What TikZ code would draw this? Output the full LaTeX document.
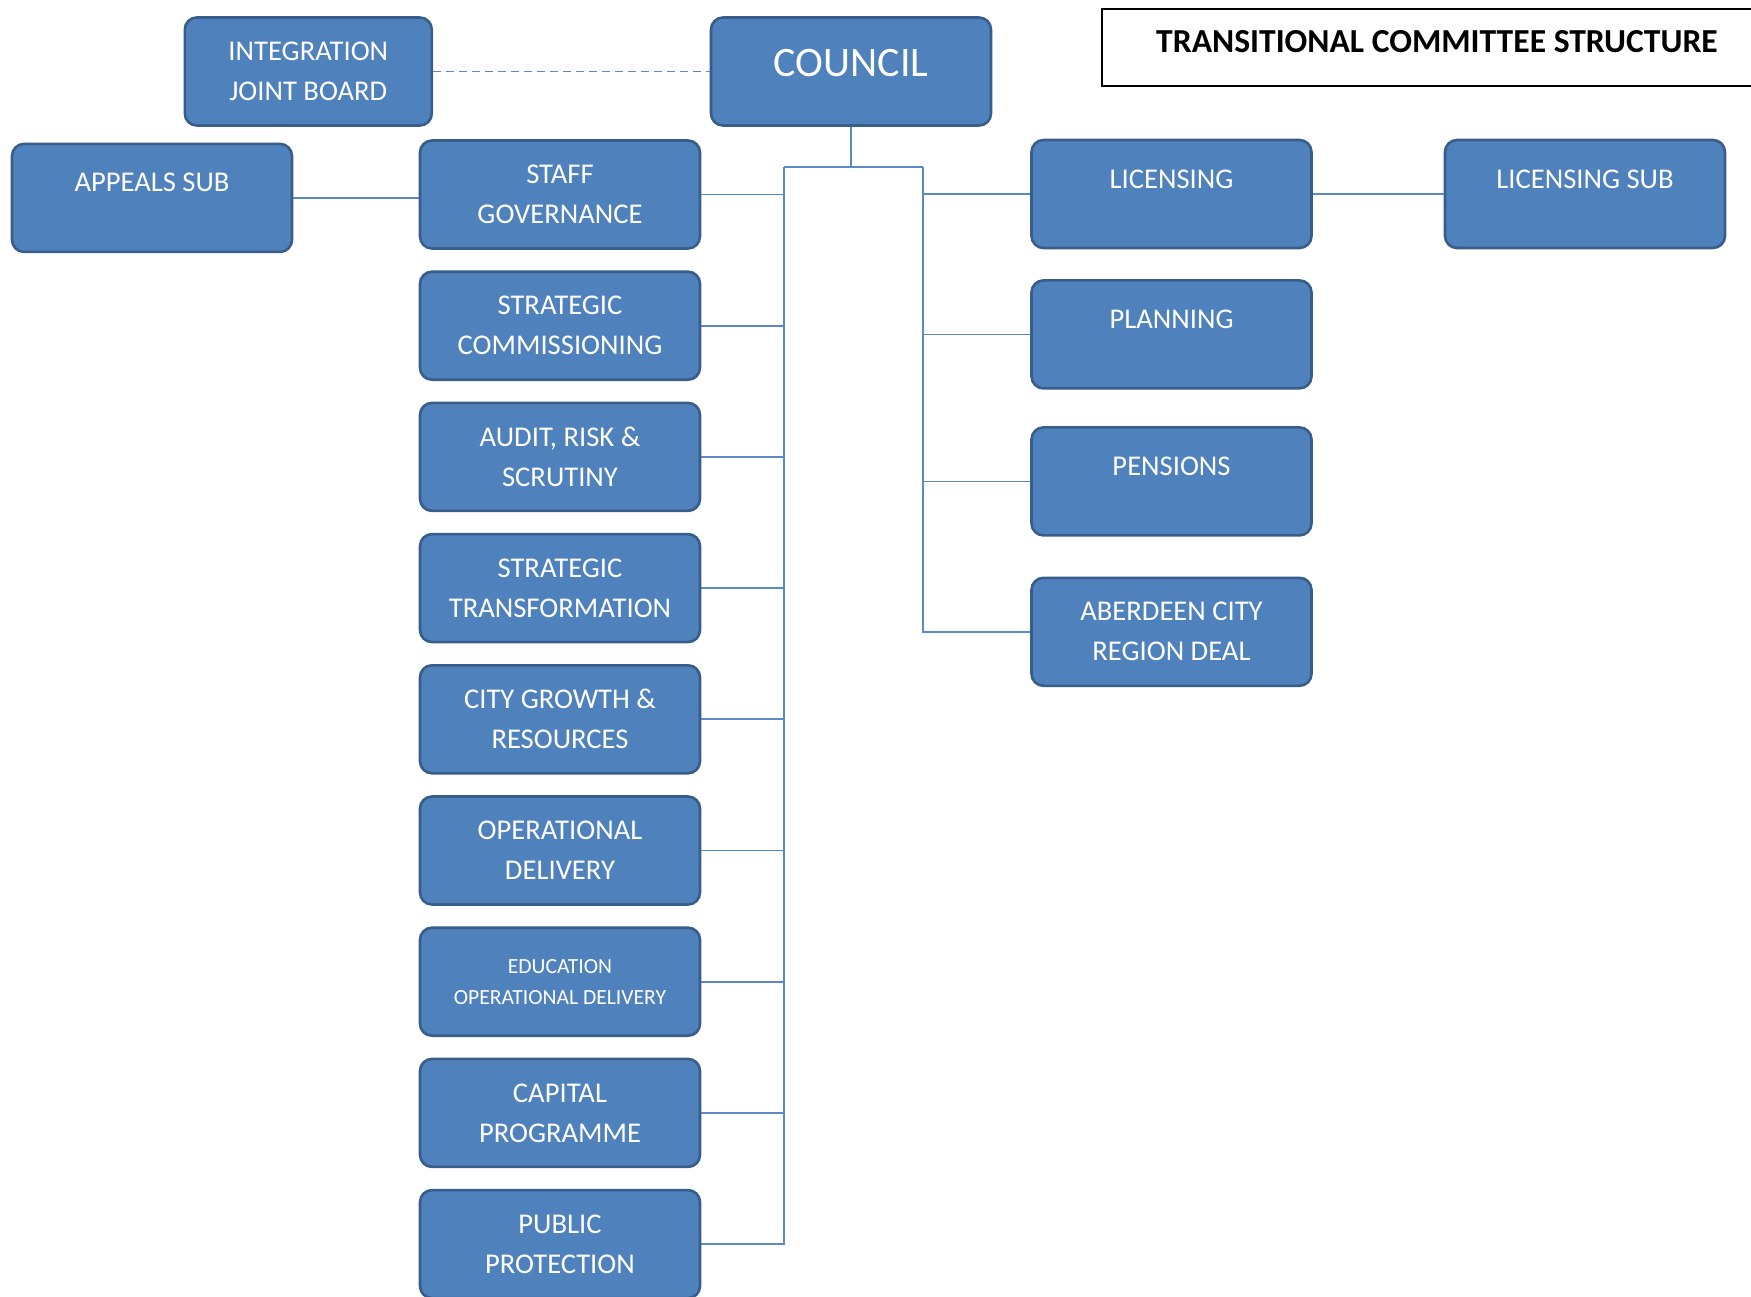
\documentclass[tikz,border=0pt]{standalone}
\usepackage{fontspec}
\setmainfont{Carlito}
\usetikzlibrary{calc,positioning}
\definecolor{boardBlue}{HTML}{4F81BD}
\definecolor{boardEdge}{HTML}{385D8A}
\definecolor{linkBlue}{HTML}{5A8AC6}
\tikzset{
  committee card/.style={
    draw=boardEdge,
    fill=boardBlue,
    rounded corners=6pt,
    line width=1.3pt,
    minimum width=140pt,
    minimum height=54pt,
    inner sep=0pt,
    font=\fontsize{14.3}{20}\selectfont,
    align=center,
    text=white
  },
  single line/.style={
    text height=9pt,
    text depth=15pt
  },
  council card/.style={
    committee card,
    font=\fontsize{21}{25}\selectfont,
    text height=13.5pt,
    text depth=9pt
  },
  small card/.style={
    committee card,
    font=\fontsize{10.8}{15.5}\selectfont
  },
  title card/.style={
    draw=black,
    line width=1pt,
    minimum width=335pt,
    minimum height=38.5pt,
    font=\bfseries\fontsize{16.8}{19}\selectfont,
    text height=10.8pt,
    text depth=5.6pt,
    text=black
  },
  bus edge/.style={
    draw=linkBlue,
    line width=0.9pt
  },
  liaison edge/.style={
    bus edge,
    dash pattern=on 4pt off 2.5pt
  }
}
\begin{document}
\begin{tikzpicture}
  \useasboundingbox (0,0) rectangle (875.5pt,-648pt);

  \node[title card] (title) at (718.5pt,-23.75pt) {TRANSITIONAL COMMITTEE STRUCTURE};

  \node[council card] (council) at (425.5pt,-35.75pt) {COUNCIL};
  \node[committee card,minimum width=123.5pt,left=138.3pt of council] (joint-board) {INTEGRATION\\JOINT BOARD};

  % left column
  \node[committee card] (staff) at (280pt,-97.25pt) {STAFF\\GOVERNANCE};
  \node[committee card,single line,left=62.7pt of staff,yshift=-1.7pt] (appeals-sub) {APPEALS SUB};
  \node[committee card,below=10.3pt of staff] (commissioning) {STRATEGIC\\COMMISSIONING};
  \node[committee card,below=10.3pt of commissioning] (audit) {AUDIT, RISK \&\\SCRUTINY};
  \node[committee card,below=10.3pt of audit] (transformation) {STRATEGIC\\TRANSFORMATION};
  \node[committee card,below=10.3pt of transformation] (city-growth) {CITY GROWTH \&\\RESOURCES};
  \node[committee card,below=10.3pt of city-growth] (operational) {OPERATIONAL\\DELIVERY};
  \node[small card,below=10.3pt of operational] (education) {EDUCATION\\OPERATIONAL DELIVERY};
  \node[committee card,below=10.3pt of education] (capital) {CAPITAL\\PROGRAMME};
  \node[committee card,below=10.3pt of capital] (protection) {PUBLIC\\PROTECTION};

  % right column
  \node[committee card,single line] (licensing) at (585.75pt,-97pt) {LICENSING};
  \node[committee card,single line,right=65.45pt of licensing] (licensing-sub) {LICENSING SUB};
  \node[committee card,single line,below=14.9pt of licensing] (planning) {PLANNING};
  \node[committee card,single line,below=18.2pt of planning] (pensions) {PENSIONS};
  \node[committee card,below=19.9pt of pensions] (city-region) {ABERDEEN CITY\\REGION DEAL};

  \coordinate (split) at ($(council.south)+(0,-20pt)$);
  \coordinate (left-bus) at ($(split)+(-33.5pt,0)$);
  \coordinate (right-bus) at ($(split)+(36pt,0)$);

  \draw[liaison edge] (joint-board) -- (council);
  \draw[bus edge] (council.south) -- (split);
  \draw[bus edge] (left-bus) -- (right-bus);
  \draw[bus edge] (left-bus) |- (protection.east);
  \draw[bus edge] (right-bus) |- (city-region.west);
  \draw[bus edge] (staff.east) -- (staff.east -| left-bus);
  \draw[bus edge] (commissioning.east) -- (commissioning.east -| left-bus);
  \draw[bus edge] (audit.east) -- (audit.east -| left-bus);
  \draw[bus edge] (transformation.east) -- (transformation.east -| left-bus);
  \draw[bus edge] (city-growth.east) -- (city-growth.east -| left-bus);
  \draw[bus edge] (operational.east) -- (operational.east -| left-bus);
  \draw[bus edge] (education.east) -- (education.east -| left-bus);
  \draw[bus edge] (capital.east) -- (capital.east -| left-bus);
  \draw[bus edge] (licensing.west) -- (licensing.west -| right-bus);
  \draw[bus edge] (planning.west) -- (planning.west -| right-bus);
  \draw[bus edge] (pensions.west) -- (pensions.west -| right-bus);
  \draw[bus edge] (appeals-sub.east) -- (appeals-sub.east -| staff.west);
  \draw[bus edge] (licensing) -- (licensing-sub);
\end{tikzpicture}
\end{document}
